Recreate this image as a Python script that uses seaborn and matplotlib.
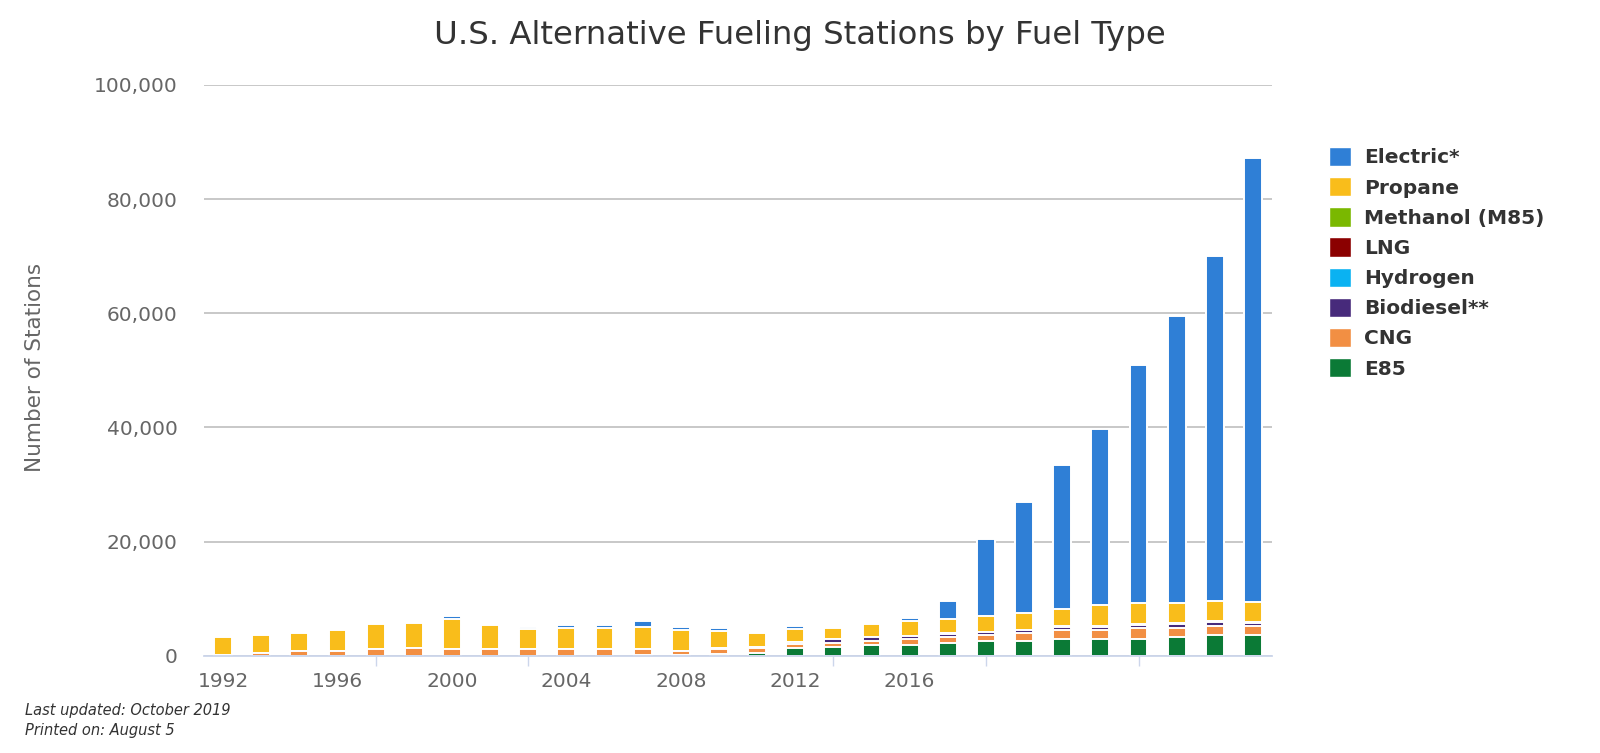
import numpy as np
import pandas as pd
import matplotlib
matplotlib.use("Agg")
import matplotlib.pyplot as plt
from matplotlib.patches import Patch
import seaborn as sns

# -----------------------------
# Data
# -----------------------------
years = [str(y) for y in range(1992, 2020)]

e85 = [0, 0, 0, 0, 0, 0, 0, 0, 0, 0, 0, 100, 150, 300, 500, 1300, 1500, 1900,
       1900, 2250, 2600, 2600, 2900, 2900, 2900, 3250, 3600, 3600]
cng = [50, 400, 900, 900, 1200, 1400, 1200, 1200, 1200, 1200, 1200, 1100, 700, 900,
       800, 700, 700, 700, 1000, 1000, 1000, 1300, 1600, 1600, 1950, 1600, 1600, 1600]
biodiesel = [0, 0, 0, 0, 0, 0, 0, 0, 0, 0, 0, 0, 0, 100, 250, 400, 650, 700,
             600, 600, 550, 550, 600, 600, 600, 700, 700, 600]
hydrogen = [0, 0, 0, 0, 0, 0, 0, 0, 0, 0, 0, 0, 0, 0, 0, 0, 10, 10,
            10, 10, 20, 20, 30, 30, 40, 40, 50, 60]
lng = [0, 0, 0, 0, 0, 0, 0, 0, 0, 0, 0, 0, 0, 0, 0, 30, 30, 30,
       30, 40, 60, 60, 80, 100, 110, 120, 120, 120]
methanol = [0] * 28
propane = [3250, 3250, 3150, 3550, 4400, 4250, 5200, 4150, 3400, 3650, 3650, 3900, 3600, 3000,
           2500, 2250, 1900, 2300, 2600, 2600, 2650, 2950, 2950, 3650, 3600, 3450, 3500, 3450]
electric = [0, 0, 0, 0, 0, 0, 500, 0, 400, 500, 500, 950, 500, 500,
            0, 500, 0, 0, 450, 3100, 13500, 19500, 25300, 30800, 41700, 50300, 60400, 77800]

# x-axis labels as printed (the reference squeezes them closer than the tick marks)
xlabels = ["1992", "1996", "2000", "2004", "2008", "2012", "2016"]

# stacking order, bottom to top
fuels = ["E85", "CNG", "Biodiesel**", "Hydrogen", "LNG", "Methanol (M85)", "Propane", "Electric*"]
colors = ["#0b7a36", "#f28f43", "#472a7b", "#0ab2f2", "#8b0000", "#7ab800", "#f9bd1b", "#2f7fd6"]

df = pd.DataFrame({
    "Year": years,
    "E85": e85,
    "CNG": cng,
    "Biodiesel**": biodiesel,
    "Hydrogen": hydrogen,
    "LNG": lng,
    "Methanol (M85)": methanol,
    "Propane": propane,
    "Electric*": electric,
})
cum = df[fuels].cumsum(axis=1)

# -----------------------------
# Plot
# -----------------------------
sns.set_theme(style="white")
plt.rcParams["font.family"] = ["DejaVu Sans"]

fig = plt.figure(figsize=(16, 7.53), dpi=100)
ax = fig.add_axes([0.1275, 0.1292, 0.6675, 0.758])

# tallest layer first so lower layers paint over it
for fuel, color in zip(reversed(fuels), reversed(colors)):
    sns.barplot(x=df["Year"], y=cum[fuel], color=color, saturation=1, width=0.47,
                edgecolor="white", linewidth=1.4, order=years, ax=ax)

ax.set_xlim(-0.5, len(years) - 0.5)
ax.set_ylim(0, 100000)
ax.set_yticks(range(0, 100001, 20000))
ax.set_yticklabels([f"{v:,}" for v in range(0, 100001, 20000)])

# tick marks every 4 bars, labels every 3 bars (as in the reference)
ax.set_xticks(range(0, len(years), 4), minor=True)
ax.set_xticks(range(0, 3 * len(xlabels), 3))
ax.set_xticklabels(xlabels)
ax.set_xlabel("")
ax.set_ylabel("")

ax.set_axisbelow(True)
ax.yaxis.grid(True, color="#c4c4c4", linewidth=1.3)
for s in ["top", "right", "left"]:
    ax.spines[s].set_visible(False)
ax.spines["bottom"].set_color("#ccd6eb")
ax.spines["bottom"].set_linewidth(1.3)
ax.tick_params(axis="x", which="minor", bottom=True, length=7, width=1, color="#ccd6eb")
ax.tick_params(axis="x", which="major", bottom=True, length=7, width=0,
               pad=5, labelsize=14.5, labelcolor="#666666")
ax.tick_params(axis="y", left=False, pad=13, labelsize=14.5, labelcolor="#666666")

fig.text(0.5, 0.953, "U.S. Alternative Fueling Stations by Fuel Type",
         ha="center", va="center", fontsize=23.3, color="#333333")
fig.text(35 / 1600, 0.512, "Number of Stations", rotation=90,
         ha="center", va="center", fontsize=15.5, color="#666666")
fig.text(25 / 1600, 1 - 710 / 753, "Last updated: October 2019",
         ha="left", va="center", fontsize=10.5, style="italic", color="#333333")
fig.text(25 / 1600, 1 - 731 / 753, "Printed on: August 5",
         ha="left", va="center", fontsize=10.5, style="italic", color="#333333")

handles = [Patch(facecolor=c, edgecolor="white", label=f)
           for f, c in zip(reversed(fuels), reversed(colors))]
leg = fig.legend(handles=handles, loc="upper left", bbox_to_anchor=(0.819, 0.829),
                 frameon=False, handlelength=1.1, handleheight=1.1,
                 handletextpad=0.65, labelspacing=0.48,
                 prop={"weight": "bold", "size": 14.5})
for t in leg.get_texts():
    t.set_color("#333333")

fig.savefig("out.png", dpi=100)
